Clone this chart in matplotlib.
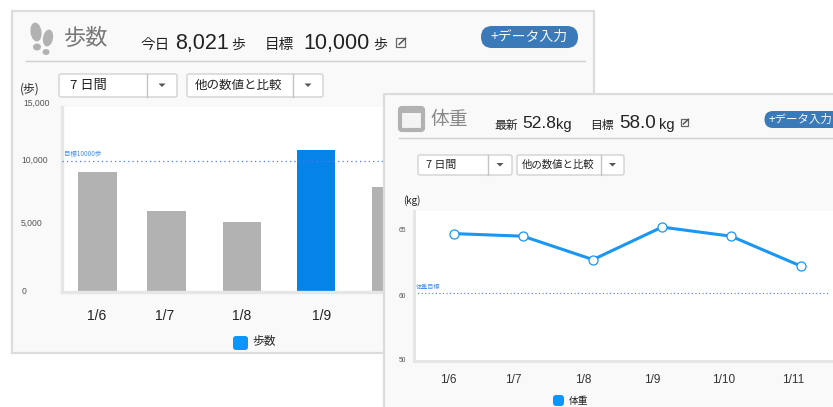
import matplotlib
matplotlib.use("Agg")
import matplotlib.pyplot as plt
from matplotlib.patches import FancyBboxPatch, Rectangle, Ellipse, Polygon

plt.rcParams['font.family'] = ['Noto Sans CJK JP', 'DejaVu Sans']

W, H = 833, 407

step_days = ['1/6', '1/7', '1/8', '1/9', '1/10']
step_values = [9160, 6180, 5340, 10840, 8021]
step_goal = 10000
step_ticks = ['0', '5,000', '10,000', '15,000']

weight_days = ['1/6', '1/7', '1/8', '1/9', '1/10', '1/11']
weight_values = [54.9, 54.8, 53.9, 55.15, 54.8, 53.65]
weight_goal = 52.6
weight_ticks = ['50', '60', '65']

GREY = '#b2b2b2'
BLUE = '#0583e8'
LINE = '#1a96f5'
PANEL = '#f9f9f9'
EDGE = '#dcdcdc'
TXT = '#222222'
LATIN = 'Liberation Sans'

fig = plt.figure(figsize=(W / 100, H / 100), dpi=100, facecolor='white')
bg = fig.add_axes([0, 0, 1, 1], zorder=0)
bg.set_xlim(0, W); bg.set_ylim(H, 0); bg.axis('off')


def axes_px(x0, y0, x1, y1, z):
    return fig.add_axes([x0 / W, 1 - y1 / H, (x1 - x0) / W, (y1 - y0) / H], zorder=z)


def overlay(z):
    a = fig.add_axes([0, 0, 1, 1], zorder=z)
    a.set_xlim(0, W); a.set_ylim(H, 0); a.axis('off'); a.patch.set_alpha(0)
    return a


def dropdown(a, x0, x1, xsplit, y0, y1, label, lx, fs):
    a.add_patch(FancyBboxPatch((x0 + 2, y0 + 2), x1 - x0 - 4, y1 - y0 - 4,
                               boxstyle='round,pad=2', fc='white', ec='#d2d2d2', lw=1))
    a.plot([xsplit, xsplit], [y0, y1], color='#c4c4c4', lw=1)
    a.text(lx, (y0 + y1) / 2, label, fontsize=fs, color=TXT, va='center', ha='left')
    cx = (xsplit + x1) / 2
    a.add_patch(Polygon([(cx - 3.5, (y0 + y1) / 2 - 2), (cx + 3.5, (y0 + y1) / 2 - 2),
                         (cx, (y0 + y1) / 2 + 1.5)], fc='#555555', ec='none'))


def edit_icon(a, x, y, s):
    a.add_patch(Rectangle((x, y), s, s, fc='none', ec='#666666', lw=0.9))
    a.plot([x + s * 0.35, x + s * 1.05], [y + s * 0.7, y + s * 0.05], color='#555555', lw=1.1)


# ---------- left panel ----------
bg.add_patch(Rectangle((12, 11), 582, 342, fc=PANEL, ec=EDGE, lw=1.6))
bg.add_patch(Ellipse((36, 32), 11, 19, angle=-8, fc=GREY, ec='none'))
bg.add_patch(Ellipse((37, 47), 8, 7, fc=GREY, ec='none'))
bg.add_patch(Ellipse((48, 38), 10, 17, angle=10, fc=GREY, ec='none'))
bg.add_patch(Ellipse((46, 52), 7, 6, fc=GREY, ec='none'))
bg.text(64, 38, '歩数', fontsize=16, color='#777777', va='center')
bg.text(140, 45, '今日', fontsize=10.5, color=TXT, va='center')
bg.text(175, 44, '8,021', fontsize=15.5, color=TXT, va='center', family=LATIN)
bg.text(231, 45, '歩', fontsize=10, color=TXT, va='center')
bg.text(265, 45, '目標', fontsize=10.5, color=TXT, va='center')
bg.text(303, 44, '10,000', fontsize=15.5, color=TXT, va='center', family=LATIN)
bg.text(373, 45, '歩', fontsize=10, color=TXT, va='center')
edit_icon(bg, 396, 38, 9)
bg.add_patch(FancyBboxPatch((492, 37), 75, 0.01, boxstyle='round,pad=11', fc='#3a7ab8', ec='none'))
bg.text(529.5, 37, '+データ入力', fontsize=10, color='#f4f8fc', va='center', ha='center')
bg.plot([26, 585], [61, 61], color='#cfcfcf', lw=1)
bg.text(20, 89, '(歩)', fontsize=8.5, color=TXT, va='center')
dropdown(bg, 59, 177, 147, 74, 97, '7 日間', 70, 9.5)
dropdown(bg, 187, 323, 293, 74, 97, '他の数値と比較', 195, 9)

ax = axes_px(62, 107, 385, 292, 1)
ax.set_xlim(62, 385)
ax.set_ylim(0, 185 / 0.0131)
ax.set_facecolor('white')
bar_centers = [97.5, 166, 242, 316, 391]
bar_widths = [39, 39, 38, 38, 38]
colors = [GREY, GREY, GREY, BLUE, GREY]
ax.bar(bar_centers, step_values, width=bar_widths, color=colors, clip_on=True)
ax.axhline(step_goal, color='#4f78f0', lw=0.9, ls=(0, (1, 2.5)), zorder=3)
ax.text(64, step_goal + 250, '目標10000歩', fontsize=4.6, color='#4a90f0', va='bottom')
for s in ('top', 'right'):
    ax.spines[s].set_visible(False)
for s in ('left', 'bottom'):
    ax.spines[s].set_color('#e6e6e6'); ax.spines[s].set_linewidth(2.4)
ax.set_yticks([]); ax.set_xticks([])

for lab, x, y in zip(step_ticks, [22, 21, 21, 23], [291, 223, 160, 103]):
    bg.text(x, y, lab, fontsize=6.2, color='#555555', ha='left', va='center', family=LATIN)
for lab, x in zip(step_days[:4], [97, 165, 242, 322]):
    bg.text(x, 316, lab, fontsize=10, color=TXT, ha='center', va='center', family=LATIN)
bg.add_patch(FancyBboxPatch((236, 339), 9, 8, boxstyle='round,pad=3', fc='#0a96fa', ec='none'))
bg.text(252, 341, '歩数', fontsize=8.5, color=TXT, va='center')

# ---------- right panel ----------
p = overlay(2)
p.add_patch(Rectangle((384, 94), 460, 330, fc=PANEL, ec=EDGE, lw=1.6))
p.add_patch(FancyBboxPatch((402, 110), 19, 18, boxstyle='round,pad=2', fc='#f4f4f4', ec=GREY, lw=3))
p.add_patch(Rectangle((400, 108), 23, 4.5, fc=GREY, ec='none'))
p.text(430, 119, '体重', fontsize=13.5, color='#888888', va='center')
p.text(494, 125, '最新', fontsize=8.5, color=TXT, va='center')
p.text(522, 124, '52.8', fontsize=12.5, color=TXT, va='center', family=LATIN)
p.text(556, 125, 'kg', fontsize=10.5, color=TXT, va='center', family=LATIN)
p.text(590, 125, '目標', fontsize=8.5, color=TXT, va='center')
p.text(619, 124, '58.0', fontsize=13.5, color=TXT, va='center', family=LATIN)
p.text(659, 125, 'kg', fontsize=10.5, color=TXT, va='center', family=LATIN)
edit_icon(p, 681, 119, 7)
p.add_patch(FancyBboxPatch((773, 119.5), 70, 0.01, boxstyle='round,pad=8.5', fc='#3a7ab8', ec='none'))
p.text(769, 119, '+データ入力', fontsize=8.3, color='#f4f8fc', va='center')
p.plot([399, 833], [138, 138], color='#cfcfcf', lw=1)
dropdown(p, 418, 512, 488, 155, 175, '7 日間', 426, 7.8)
dropdown(p, 517, 624, 601, 155, 175, '他の数値と比較', 522, 7.5)
p.text(403, 201, '(kg)', fontsize=7, color=TXT, va='center')

ax2 = axes_px(414, 211, 833, 361, 3)
ax2.set_xlim(414, 833)
ax2.set_ylim(50, 50 + 150 / 26)
ax2.set_facecolor('white')
pts = [454, 523, 593, 662, 731, 801]
ax2.plot(pts, weight_values, color=LINE, lw=2.2, marker='o', ms=6.5, mfc='white',
         mec=LINE, mew=0.9, zorder=3)
ax2.axhline(weight_goal, color='#4f78f0', lw=0.8, ls=(0, (1, 2.2)), xmax=0.99)
ax2.text(416, weight_goal + 0.1, '体重目標', fontsize=4.4, color='#4a90f0', va='bottom')
for s in ('top', 'right'):
    ax2.spines[s].set_visible(False)
for s in ('left', 'bottom'):
    ax2.spines[s].set_color('#e6e6e6'); ax2.spines[s].set_linewidth(2.2)
ax2.set_xticks([]); ax2.set_yticks([])

t = overlay(4)
for lab, y in zip(weight_ticks, [361, 297, 231]):
    t.text(402, y, lab, fontsize=4.8, color='#555555', ha='center', va='center', family=LATIN)
for lab, x in zip(weight_days, [448, 513, 583, 652, 724, 793]):
    t.text(x, 380, lab, fontsize=8.5, color='#333333', ha='center', va='center', family=LATIN)
t.add_patch(FancyBboxPatch((556, 398), 5, 5, boxstyle='round,pad=3', fc='#0a96fa', ec='none'))
t.text(569, 401, '体重', fontsize=7, color=TXT, va='center')

fig.savefig('out.png', dpi=100)
